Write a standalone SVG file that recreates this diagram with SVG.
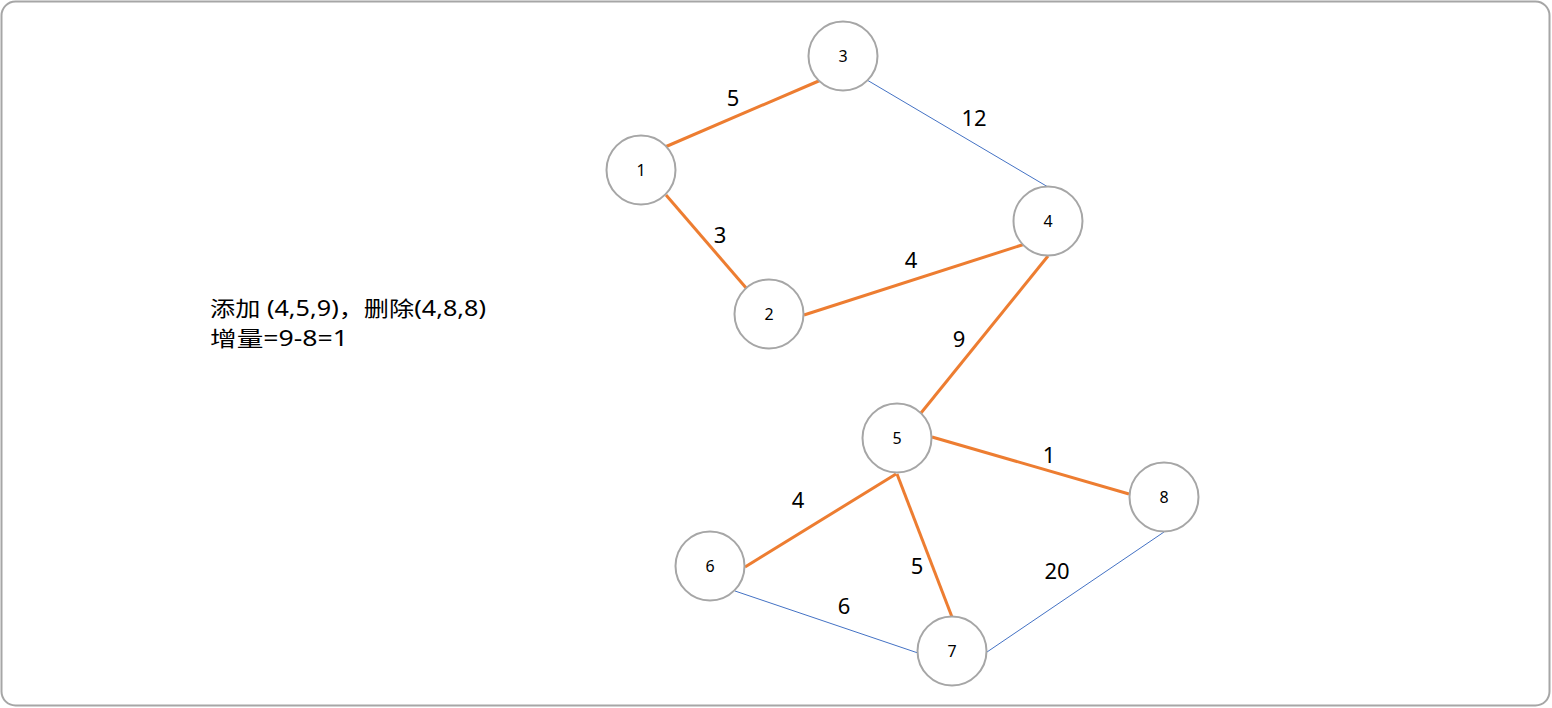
<svg xmlns="http://www.w3.org/2000/svg" width="1552" height="708" viewBox="0 0 1552 708">
<style>
.node circle{fill:#fff;stroke:#a6a6a6;stroke-width:2}
.node text{font-family:"Noto Sans","Liberation Sans",sans-serif;font-size:16px;fill:#000;text-anchor:middle;dominant-baseline:central}
.sel{stroke:#ed7d31;stroke-width:3;fill:none}
.oth{stroke:#4472c4;stroke-width:1;fill:none}
.lbl{font-family:"Noto Sans","Liberation Sans",sans-serif;font-size:22px;fill:#000;text-anchor:middle;dominant-baseline:central}
.note{font-family:"Noto Sans","Noto Sans CJK SC",sans-serif;font-size:21px;fill:#000}
</style>
<rect x="1.5" y="1.5" width="1548" height="704" rx="14" fill="#fff" stroke="#a6a6a6" stroke-width="2"/>
<g id="connectors">
<line class="sel" x1="665" y1="147" x2="821" y2="80"/>
<line class="oth" x1="867" y1="80" x2="1048" y2="187"/>
<line class="sel" x1="666" y1="195" x2="747" y2="289"/>
<line class="sel" x1="804" y1="315" x2="1025" y2="244"/>
<line class="sel" x1="1048" y1="256" x2="921" y2="413"/>
<line class="sel" x1="932" y1="437" x2="1129" y2="494"/>
<line class="sel" x1="896" y1="474" x2="745" y2="567"/>
<line class="sel" x1="897" y1="474" x2="952" y2="617"/>
<line class="oth" x1="735" y1="591" x2="918" y2="653"/>
<line class="oth" x1="987" y1="652" x2="1164" y2="532"/>
<text class="lbl" x="733" y="97">5</text>
<text class="lbl" x="974" y="117">12</text>
<text class="lbl" x="720" y="234">3</text>
<text class="lbl" x="911" y="259">4</text>
<text class="lbl" x="959" y="338">9</text>
<text class="lbl" x="1049" y="454">1</text>
<text class="lbl" x="798" y="499">4</text>
<text class="lbl" x="917" y="565">5</text>
<text class="lbl" x="1057" y="570">20</text>
<text class="lbl" x="844" y="605">6</text>
</g>
<g id="n3" class="node"><circle cx="843" cy="56" r="34.5"/><text x="843" y="56">3</text></g>
<g id="n1" class="node"><circle cx="641" cy="170" r="34.5"/><text x="641" y="170">1</text></g>
<g id="n4" class="node"><circle cx="1048" cy="221" r="34.5"/><text x="1048" y="221">4</text></g>
<g id="n2" class="node"><circle cx="769" cy="314" r="34.5"/><text x="769" y="314">2</text></g>
<g id="n5" class="node"><circle cx="897" cy="438" r="34.5"/><text x="897" y="438">5</text></g>
<g id="n8" class="node"><circle cx="1164" cy="497" r="34.5"/><text x="1164" y="497">8</text></g>
<g id="n6" class="node"><circle cx="710" cy="566" r="34.5"/><text x="710" y="566">6</text></g>
<g id="n7" class="node"><circle cx="952" cy="651" r="34.5"/><text x="952" y="651">7</text></g>
<g id="note">
<text class="note" x="210" y="316" textLength="276" lengthAdjust="spacingAndGlyphs">添加 (4,5,9)，删除(4,8,8)</text>
<text class="note" x="210" y="346" textLength="138" lengthAdjust="spacingAndGlyphs">增量=9-8=1</text>
</g>
</svg>
